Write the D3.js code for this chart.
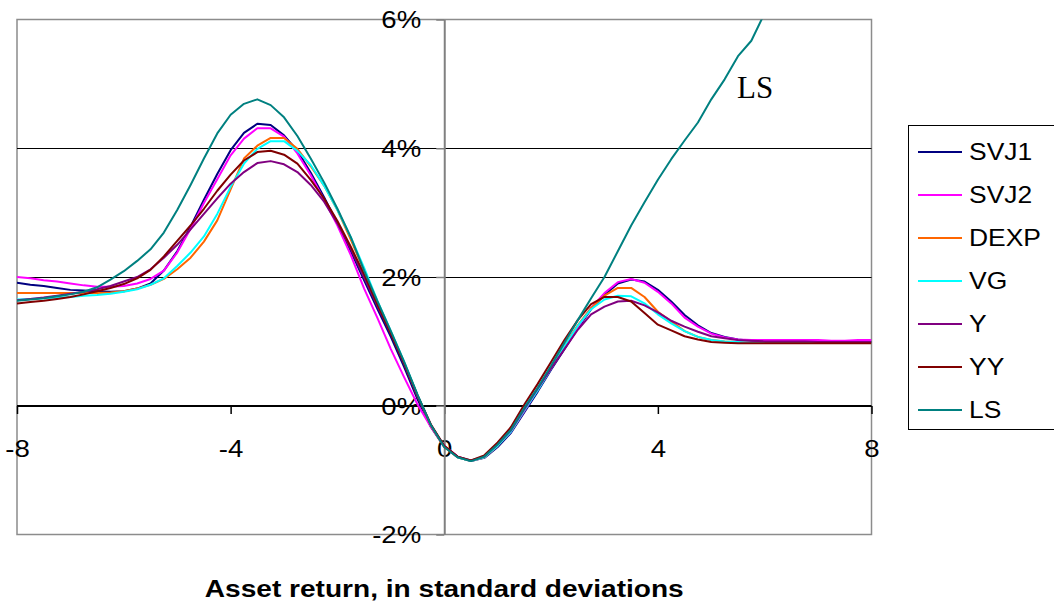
<!DOCTYPE html>
<html>
<head>
<meta charset="utf-8">
<script src="https://cdn.jsdelivr.net/npm/d3@7"></script>
<style>
  body { margin: 0; background: #fff; }
  svg { display: block; }
</style>
</head>
<body>
<svg id="chart" width="1054" height="604"></svg>
<script>
// Asset return grid, in standard deviations
const xValues = [-8,-7.75,-7.5,-7.25,-7,-6.75,-6.5,-6.25,-6,-5.75,-5.5,-5.25,-5,-4.75,-4.5,-4.25,-4,-3.75,-3.5,-3.25,-3,-2.75,-2.5,-2.25,-2,-1.75,-1.5,-1.25,-1,-0.75,-0.5,-0.25,0,0.25,0.5,0.75,1,1.25,1.5,1.75,2,2.25,2.5,2.75,3,3.25,3.5,3.75,4,4.25,4.5,4.75,5,5.25,5.5,5.75,6,6.25,6.5,6.75,7,7.25,7.5,7.75,8];

// Model values, in percent
const svj1 = [1.91,1.88,1.86,1.83,1.80,1.79,1.78,1.77,1.78,
  1.82,1.90,2.10,2.40,2.78,3.20,3.60,3.97,
  4.24,4.38,4.36,4.20,3.96,3.62,3.24,2.83,
  2.40,1.95,1.50,1.07,0.60,0.10,-0.33,-0.64,
  -0.80,-0.86,-0.81,-0.64,-0.42,-0.10,0.22,0.56,
  0.88,1.20,1.50,1.72,1.90,1.96,1.93,1.80,
  1.62,1.41,1.25,1.13,1.07,1.03,1.01,1.00,
  0.99,0.98,0.98,0.98,0.98,0.99,0.99,0.99];
const svj2 = [2.00,1.98,1.95,1.93,1.90,1.87,1.85,1.85,1.86,
  1.90,1.97,2.10,2.38,2.75,3.15,3.52,3.89,
  4.15,4.31,4.31,4.18,3.92,3.58,3.20,2.80,
  2.34,1.82,1.36,0.88,0.44,0.02,-0.33,-0.62,
  -0.79,-0.86,-0.80,-0.62,-0.40,-0.08,0.25,0.58,
  0.90,1.22,1.52,1.75,1.92,1.97,1.91,1.77,
  1.59,1.37,1.23,1.12,1.06,1.03,1.02,1.02,
  1.02,1.02,1.02,1.02,1.01,1.01,1.02,1.02];
const dexp = [1.75,1.75,1.75,1.75,1.75,1.75,1.75,1.76,1.78,
  1.82,1.88,1.97,2.12,2.30,2.55,2.88,3.36,
  3.84,4.04,4.16,4.16,3.99,3.72,3.42,3.04,
  2.58,2.10,1.61,1.14,0.66,0.15,-0.31,-0.64,
  -0.80,-0.86,-0.80,-0.62,-0.39,-0.06,0.26,0.60,
  0.93,1.25,1.52,1.71,1.83,1.83,1.69,1.46,
  1.31,1.16,1.07,1.02,1.00,0.99,0.98,0.98,
  0.98,0.98,0.98,0.98,0.98,0.98,0.98,0.98];
const vg = [1.65,1.66,1.67,1.68,1.69,1.71,1.72,1.74,1.77,
  1.81,1.88,1.98,2.17,2.38,2.63,2.98,3.40,
  3.76,3.99,4.11,4.11,3.96,3.74,3.42,3.04,
  2.62,2.14,1.63,1.16,0.68,0.17,-0.30,-0.63,
  -0.80,-0.86,-0.80,-0.62,-0.40,-0.07,0.24,0.58,
  0.92,1.24,1.50,1.65,1.71,1.70,1.59,1.42,
  1.28,1.16,1.07,1.02,1.00,0.99,0.98,0.98,
  0.98,0.98,0.98,0.98,0.98,0.98,0.98,0.98];
const yModel = [1.64,1.66,1.68,1.71,1.74,1.77,1.81,1.86,1.93,
  2.00,2.12,2.30,2.50,2.74,2.98,3.22,3.45,
  3.63,3.77,3.80,3.75,3.63,3.43,3.17,2.83,
  2.44,1.99,1.55,1.12,0.65,0.15,-0.30,-0.63,
  -0.79,-0.85,-0.79,-0.60,-0.38,-0.05,0.27,0.58,
  0.88,1.18,1.42,1.54,1.62,1.63,1.56,1.45,
  1.32,1.23,1.15,1.08,1.05,1.02,1.01,1.00,
  1.00,1.00,1.00,0.99,0.99,0.99,0.99,0.99];
const yy = [1.59,1.61,1.63,1.66,1.69,1.73,1.78,1.83,1.89,
  1.98,2.11,2.32,2.56,2.80,3.06,3.34,3.59,
  3.81,3.94,3.96,3.90,3.76,3.51,3.22,2.87,
  2.47,2.04,1.57,1.12,0.66,0.16,-0.29,-0.62,
  -0.79,-0.85,-0.77,-0.57,-0.33,0.02,0.34,0.68,
  1.02,1.33,1.58,1.69,1.69,1.62,1.44,1.26,
  1.17,1.08,1.03,0.99,0.98,0.97,0.97,0.97,
  0.97,0.97,0.97,0.97,0.97,0.97,0.97,0.97];
const ls = [1.63,1.65,1.67,1.70,1.73,1.77,1.84,1.96,2.09,
  2.25,2.43,2.69,3.04,3.43,3.84,4.23,4.52,
  4.69,4.76,4.67,4.48,4.19,3.84,3.47,3.06,
  2.62,2.10,1.62,1.16,0.68,0.17,-0.30,-0.64,
  -0.80,-0.86,-0.79,-0.60,-0.37,-0.03,0.28,0.62,
  0.98,1.33,1.67,2.00,2.40,2.80,3.16,3.51,
  3.83,4.12,4.40,4.76,5.07,5.43,5.67,6.10,
  6.45,6.85,7.20,7.60,7.95,8.35,8.70,9.10];

const seriesNames = ["SVJ1", "SVJ2", "DEXP", "VG", "Y", "YY", "LS"];
const seriesValues = [svj1, svj2, dexp, vg, yModel, yy, ls];
const seriesColors = ["#000080", "#ff00ff", "#ff6600", "#00ffff", "#800080", "#800000", "#008080"];

const yTicks = [-2, 0, 2, 4, 6];
const gridValues = [0, 2, 4];
const xTicks = [-8, -4, 0, 4, 8];
const xTitle = "Asset return, in standard deviations";
const curveLabel = "LS";

const sans = "'Liberation Sans', Arial, Helvetica, sans-serif";
const serif = "'Liberation Serif', 'Times New Roman', serif";
const stretch = 1.15; // wide lettering of the labels

const svg = d3.select("#chart");
const plot = { left: 17, right: 871.5, top: 19.5, bottom: 534.5 };

const x = d3.scaleLinear().domain([-8, 8]).range([plot.left, plot.right]);
const y = d3.scaleLinear().domain([-2, 6]).range([plot.bottom, plot.top]);

// plot-area frame
svg.append("rect")
  .attr("x", plot.left).attr("y", plot.top)
  .attr("width", plot.right - plot.left).attr("height", plot.bottom - plot.top)
  .attr("fill", "#fff").attr("stroke", "#8c8c8c").attr("stroke-width", 1.5);

// horizontal gridlines
svg.append("g").selectAll("line").data(gridValues).join("line")
  .attr("x1", plot.left).attr("x2", plot.right)
  .attr("y1", d => Math.floor(y(d)) + 0.5).attr("y2", d => Math.floor(y(d)) + 0.5)
  .attr("stroke", "#000").attr("stroke-width", 1);

// x axis crossing at 0%
const gx = svg.append("g")
  .attr("transform", `translate(0,${Math.floor(y(0)) + 1})`)
  .call(d3.axisBottom(x).tickValues(xTicks).tickSize(8).tickSizeOuter(0).tickFormat(d => String(d)));
gx.select(".domain").attr("stroke", "#000").attr("stroke-width", 1);
gx.selectAll(".tick line").attr("stroke", "#000").attr("stroke-width", 1.5);
gx.selectAll(".tick text")
  .attr("y", 51).attr("dy", 0)
  .attr("transform", `scale(${stretch},1)`)
  .style("font-family", sans).style("font-size", "24px").attr("fill", "#000");

// y axis crossing at 0
const gy = svg.append("g")
  .attr("transform", `translate(${x(0)},0)`)
  .call(d3.axisLeft(y).tickValues(yTicks).tickSize(8).tickSizeOuter(0).tickFormat(d => d + "%"));
gy.select(".domain").attr("stroke", "#808080").attr("stroke-width", 2);
gy.selectAll(".tick line").attr("stroke", "#808080").attr("stroke-width", 1.5);
gy.selectAll(".tick text")
  .attr("x", -23 / stretch).attr("dy", "0.35em")
  .attr("transform", `scale(${stretch},1)`)
  .style("font-family", sans).style("font-size", "24px").attr("fill", "#000");

// curves, clipped to the plot area
svg.append("clipPath").attr("id", "plot-clip")
  .append("rect")
  .attr("x", plot.left).attr("y", plot.top)
  .attr("width", plot.right - plot.left).attr("height", plot.bottom - plot.top);

const line = d3.line()
  .x((d, i) => x(xValues[i]))
  .y(d => y(d));

svg.append("g").attr("clip-path", "url(#plot-clip)")
  .selectAll("path").data(seriesValues).join("path")
  .attr("d", d => line(d))
  .attr("fill", "none")
  .attr("stroke", (d, i) => seriesColors[i])
  .attr("stroke-width", 2)
  .attr("stroke-linejoin", "round");

// label next to the LS curve
svg.append("text")
  .attr("x", 737).attr("y", 98)
  .style("font-family", serif).style("font-size", "31px")
  .attr("fill", "#000")
  .text(curveLabel);

// legend
const legend = svg.append("g");
legend.append("rect")
  .attr("x", 908.5).attr("y", 125.5)
  .attr("width", 160).attr("height", 304)
  .attr("fill", "#fff").attr("stroke", "#000").attr("stroke-width", 1);

const rows = legend.selectAll("g.row").data(seriesNames).join("g")
  .attr("class", "row")
  .attr("transform", (d, i) => `translate(0,${152 + i * 43})`);
rows.append("line")
  .attr("x1", 918).attr("x2", 962).attr("y1", 0).attr("y2", 0)
  .attr("stroke", (d, i) => seriesColors[i]).attr("stroke-width", 2);
rows.append("g").attr("transform", "translate(969,0)")
  .append("text")
  .attr("dy", "0.36em")
  .attr("transform", `scale(${stretch},1)`)
  .style("font-family", sans).style("font-size", "23px")
  .attr("fill", "#000")
  .text(d => d);

// x-axis title
svg.append("g")
  .attr("transform", `translate(${(plot.left + plot.right) / 2},596.5)`)
  .append("text")
  .attr("text-anchor", "middle")
  .attr("transform", "scale(1.17,1)")
  .style("font-family", sans).style("font-size", "24px").style("font-weight", "bold")
  .attr("fill", "#000")
  .text(xTitle);
</script>
</body>
</html>
